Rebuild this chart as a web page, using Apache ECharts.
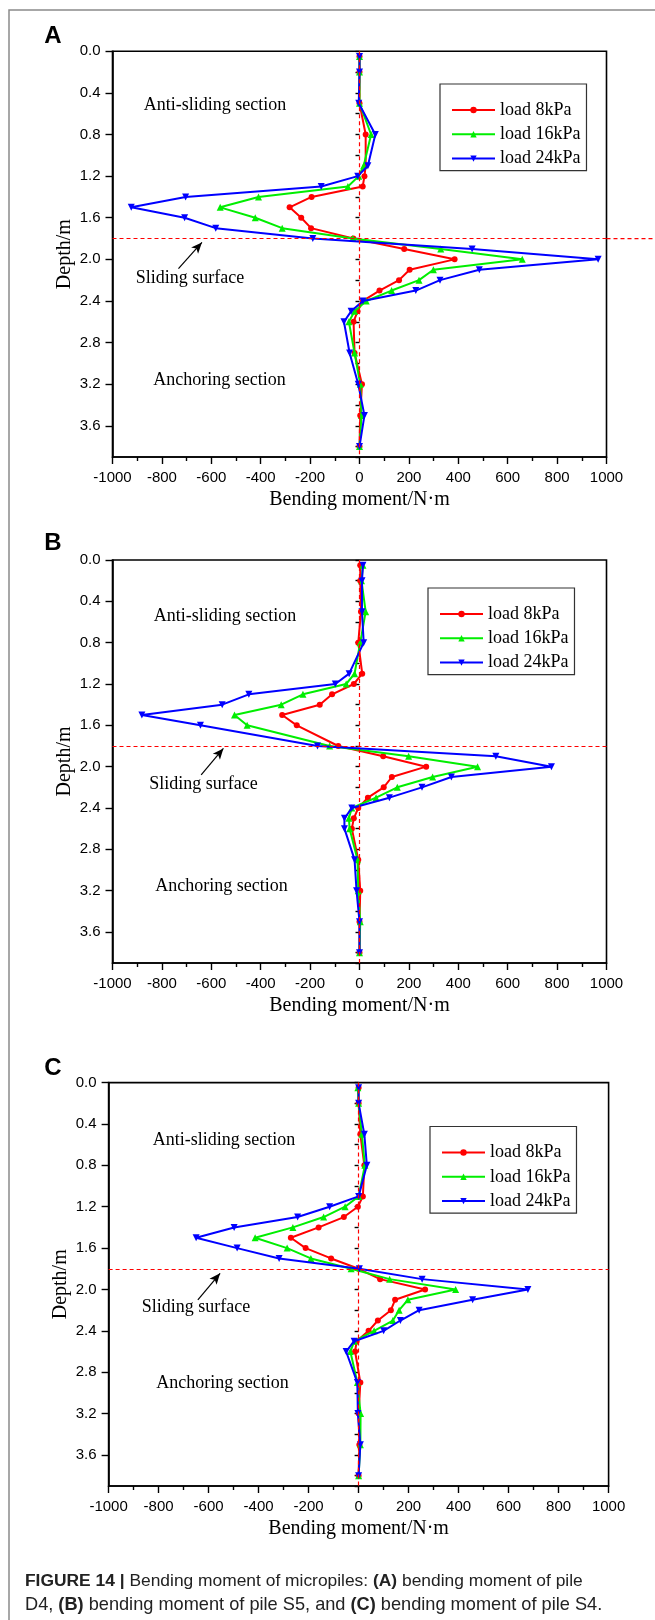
<!DOCTYPE html>
<html>
<head>
<meta charset="utf-8">
<script src="https://cdn.jsdelivr.net/npm/echarts@6/dist/echarts.min.js"></script>
<style>
  body { margin: 0; background: #fff; }
  #chart { width: 655px; height: 1620px; }
</style>
</head>
<body>
<div id="chart"></div>
<script>
// depths (m) of the gauges, panel A and C share levels, B has no 1.7
var depthA = [0.05, 0.2, 0.5, 0.8, 1.1, 1.2, 1.3, 1.4, 1.5, 1.6, 1.7, 1.8, 1.9, 2.0, 2.1, 2.2, 2.3, 2.4, 2.5, 2.6, 2.9, 3.2, 3.5, 3.8];
var depthB = [0.05, 0.2, 0.5, 0.8, 1.1, 1.2, 1.3, 1.4, 1.5, 1.6, 1.8, 1.9, 2.0, 2.1, 2.2, 2.3, 2.4, 2.5, 2.6, 2.9, 3.2, 3.5, 3.8];
var depthC = depthA;

// bending moment (N·m), pile D4
var a8 = [0, 0, 0, 25, 25, 20, 13, -194, -283, -236, -196, -25, 181, 385, 203, 160, 81, 14, -8, -24, -20, 10, 3, 0];
var a16 = [0, 0, 0, 47, 17, -3, -47, -409, -564, -422, -313, -27, 329, 659, 299, 241, 130, 27, -20, -43, -20, 3, 8, 0];
var a24 = [0, 0, -3, 64, 34, -7, -155, -704, -924, -708, -582, -189, 456, 966, 485, 326, 228, 14, -34, -63, -40, -5, 20, 0];
// pile S5
var b8 = [3, 3, 6, -5, 11, -23, -111, -161, -313, -254, -86, 96, 270, 131, 98, 34, -5, -23, -31, -5, 3, 0, 0];
var b16 = [14, 8, 25, 3, -20, -54, -229, -317, -506, -455, -121, 199, 478, 296, 153, 67, -31, -43, -40, -8, -5, 3, 0];
var b24 = [14, 10, 10, 17, -42, -98, -448, -556, -881, -644, -170, 552, 777, 372, 253, 121, -31, -61, -61, -20, -12, 0, 0];
// pile S4
var c8 = [0, 0, 7, 23, 17, -3, -59, -160, -271, -212, -110, 0, 86, 266, 146, 129, 77, 40, -8, -14, 7, 0, 3, 0];
var c16 = [-3, 0, 13, 25, 0, -54, -140, -263, -414, -286, -191, -30, 124, 388, 197, 162, 137, 62, -17, -33, -5, 8, 7, 0];
var c24 = [0, 0, 23, 33, 0, -116, -244, -498, -650, -486, -318, 3, 254, 677, 456, 242, 167, 100, -18, -50, -5, -3, 7, 0];

var seriesNames = ['load 8kPa', 'load 16kPa', 'load 24kPa'];
var xTicks = { min: -1000, max: 1000, interval: 200 };
var depthMax = 3.9;
var slideDepth = 1.8;

var SERIF = '"Liberation Serif", "Times New Roman", serif';
var SANS = '"Liberation Sans", Arial, sans-serif';

var panels = [
  { depth: depthA, vals: [a8, a16, a24], grid: { left: 112.5, top: 51.3, width: 494, height: 405.7 },
    legend: { left: 440, top: 84 }, arrow: [[-733, 2.09], [-638, 1.837]] },
  { depth: depthB, vals: [b8, b16, b24], grid: { left: 112.5, top: 560, width: 494, height: 403 },
    legend: { left: 428, top: 588 }, arrow: [[-641, 2.08], [-551, 1.823]] },
  { depth: depthC, vals: [c8, c16, c24], grid: { left: 108.6, top: 1082.6, width: 500, height: 403.4 },
    legend: { left: 430, top: 1126.5 }, arrow: [[-643, 2.10], [-554, 1.844]] }
];

var colors = ['#ff0000', '#00ee00', '#0000ff'];
var symbols = ['circle', 'triangle', 'triangle'];
var symbolSizes = [6, 7, 7];
var rotates = [0, 0, 180];

function pairs(xs, ys) {
  return xs.map(function (v, i) { return [v, ys[i]]; });
}

var grids = [], xAxes = [], yAxes = [], series = [], legends = [];
panels.forEach(function (p, k) {
  grids.push(Object.assign({ show: true, borderColor: '#000', borderWidth: 1.6, backgroundColor: 'transparent' }, p.grid));
  xAxes.push({
    gridIndex: k, type: 'value', min: xTicks.min, max: xTicks.max, interval: xTicks.interval,
    name: 'Bending moment/N·m', nameLocation: 'middle', nameGap: 33, nameMoveOverlap: false,
    nameTextStyle: { fontFamily: SERIF, fontSize: 20, color: '#000' },
    axisLine: { show: true, onZero: false, lineStyle: { color: '#000', width: 1.6 } },
    axisTick: { show: true, inside: false, length: 7, lineStyle: { color: '#000', width: 1.4 } },
    minorTick: { show: true, splitNumber: 2, length: 4, lineStyle: { color: '#000', width: 1.4 } },
    axisLabel: { fontFamily: SANS, fontSize: 15, color: '#000', margin: 13,
      formatter: function (v) { return String(v); } },
    splitLine: { show: false }
  });
  yAxes.push({
    gridIndex: k, type: 'value', inverse: true, min: 0, max: depthMax, interval: 0.4,
    name: 'Depth/m', nameLocation: 'middle', nameGap: 38, nameRotate: 90, nameMoveOverlap: false,
    nameTextStyle: { fontFamily: SERIF, fontSize: 20, color: '#000' },
    axisLine: { show: true, onZero: false, lineStyle: { color: '#000', width: 1.6 } },
    axisTick: { show: true, length: 7, lineStyle: { color: '#000', width: 1.4 } },
    axisLabel: { fontFamily: SANS, fontSize: 15, color: '#000', margin: 12, showMaxLabel: false,
      formatter: function (v) { return v.toFixed(1); } },
    splitLine: { show: false }
  });
  // minor depth ticks every 0.2
  yAxes.push({
    gridIndex: k, type: 'value', inverse: true, min: 0, max: depthMax, interval: 0.2, position: 'left',
    axisLine: { show: false }, axisLabel: { show: false }, splitLine: { show: false },
    axisTick: { show: true, length: 4, lineStyle: { color: '#000', width: 1.4 } }
  });

  p.vals.forEach(function (vals, s) {
    var item = {
      name: seriesNames[s], type: 'line', xAxisIndex: k, yAxisIndex: k * 2,
      data: pairs(vals, p.depth),
      symbol: symbols[s], symbolSize: symbolSizes[s], symbolRotate: rotates[s],
      showAllSymbol: true, z: 3 + s,
      lineStyle: { color: colors[s], width: 2 },
      itemStyle: { color: colors[s] },
      emphasis: { disabled: true }, animation: false
    };
    if (s === 0) {
      item.markLine = {
        silent: true, symbol: 'none', animation: false, label: { show: false }, z: 10,
        lineStyle: { color: '#ff0000', type: [4, 3], width: 1.2 },
        data: [
          { xAxis: 0 },
          { yAxis: slideDepth },
          [
            { coord: p.arrow[0], symbol: 'none', lineStyle: { color: '#000', type: 'solid', width: 1.2 } },
            { coord: p.arrow[1], symbol: 'arrow', symbolSize: [7, 11], lineStyle: { color: '#000', type: 'solid', width: 1.2 } }
          ]
        ]
      };
    }
    series.push(item);
  });

  legends.push({
    left: p.legend.left, top: p.legend.top, orient: 'vertical',
    data: seriesNames, itemWidth: 43, itemHeight: 8, itemGap: 6.3,
    padding: [17, 6, 3, 11], borderColor: '#333', borderWidth: 1.2, backgroundColor: '#fff',
    textStyle: { fontFamily: SERIF, fontSize: 18, color: '#000' },
    selectedMode: false
  });
});

function label(x, y, text) {
  return { type: 'text', x: x, y: y, style: { text: text, fontFamily: SERIF, fontSize: 18, fill: '#000', align: 'center', verticalAlign: 'middle' } };
}
function letter(x, y, text) {
  return { type: 'text', x: x, y: y, style: { text: text, fontFamily: SANS, fontWeight: 'bold', fontSize: 24, fill: '#000', align: 'center', verticalAlign: 'middle' } };
}
function caption(y, text, size) {
  return {
    type: 'text', x: 25, y: y,
    style: {
      text: text, fontFamily: SANS, fontSize: size, fill: '#222', verticalAlign: 'middle',
      rich: { b: { fontFamily: SANS, fontSize: size, fontWeight: 'bold', fill: '#222' } }
    }
  };
}

var graphics = [
  { type: 'polyline', shape: { points: [[655, 10], [9, 10], [9, 1620]] }, style: { stroke: '#8a8a8a', lineWidth: 1.5, fill: null } },
  letter(53, 36, 'A'), letter(53, 543, 'B'), letter(53, 1068.5, 'C'),
  label(215, 105, 'Anti-sliding section'), label(190, 278, 'Sliding surface'), label(219.5, 380, 'Anchoring section'),
  label(225, 616, 'Anti-sliding section'), label(203.5, 784, 'Sliding surface'), label(221.5, 886, 'Anchoring section'),
  label(224, 1140, 'Anti-sliding section'), label(196, 1307, 'Sliding surface'), label(222.5, 1383.5, 'Anchoring section'),
  caption(1581, '{b|FIGURE 14 |} Bending moment of micropiles: {b|(A)} bending moment of pile', 17.4),
  caption(1605, 'D4, {b|(B)} bending moment of pile S5, and {b|(C)} bending moment of pile S4.', 18.2)
];

var chart = echarts.init(document.getElementById('chart'), null, { renderer: 'canvas' });
chart.setOption({
  backgroundColor: '#fff',
  animation: false,
  grid: grids, xAxis: xAxes, yAxis: yAxes, series: series, legend: legends,
  graphic: graphics
});

// panel A: the sliding surface line runs on past the frame to the page edge
var p1 = chart.convertToPixel({ gridIndex: 0 }, [xTicks.max, slideDepth]);
graphics.push({ type: 'line', shape: { x1: p1[0], y1: p1[1], x2: 655, y2: p1[1] },
  style: { stroke: '#ff0000', lineWidth: 1.2, lineDash: [4, 3] } });
chart.setOption({ graphic: graphics });
</script>
</body>
</html>
